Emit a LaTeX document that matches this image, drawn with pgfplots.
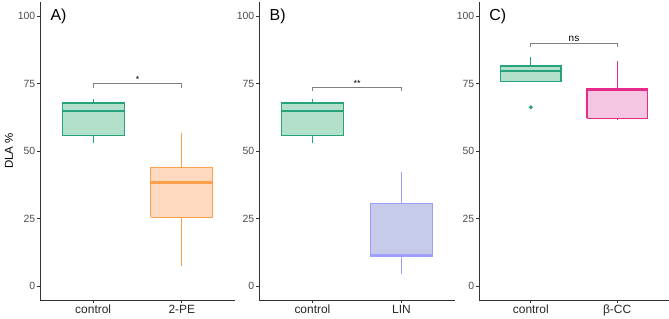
\documentclass[border=0pt]{standalone}
\usepackage{fontspec}
\setmainfont{Liberation Sans}
\usepackage{pgfplots}
\pgfplotsset{compat=1.18}
\definecolor{gline}{HTML}{26A37A}
\definecolor{gfill}{HTML}{B3E0CB}
\definecolor{oline}{HTML}{FFA14A}
\definecolor{ofill}{HTML}{FFDAC0}
\definecolor{lline}{HTML}{9E9EFF}
\definecolor{lfill}{HTML}{C6CBE9}
\definecolor{pline}{HTML}{E7298A}
\definecolor{pfill}{HTML}{F4C6E1}
\definecolor{axcol}{HTML}{333333}
\definecolor{txtcol}{HTML}{4D4D4D}
\pgfplotsset{
  panel/.style={
    scale only axis, height=298bp,
    xmin=0.4, xmax=2.6, ymin=-5.2, ymax=105.2,
    axis x line*=bottom, axis y line*=left,
    axis line style={draw=axcol, line width=0.9bp, -},
    xtick={1,2}, ytick={0,25,50,75,100},
    /pgf/number format/assume math mode=true,
    tick align=outside, major tick length=3bp,
    tick style={draw=axcol, line width=0.7bp},
    yticklabel style={font=\fontsize{10.5}{12}\selectfont, text=txtcol, inner sep=1.5bp},
    xticklabel style={font=\fontsize{12}{14}\selectfont, text=black!85, inner sep=2bp},
    clip=false,
  },
  bx/.style 2 args={draw=#1, fill=#2, line width=1.2bp, line join=miter},
  wh/.style={color=#1, line width=1.2bp},
  md/.style={color=#1, line width=2.4bp},
}
\begin{document}
\begin{tikzpicture}
\path[use as bounding box] (0,0) rectangle (669bp,319bp);
% Panel A
\begin{axis}[panel, at={(40bp,19bp)}, anchor=south west, width=195bp,
  xticklabels={control,2-PE},
  ylabel={DLA \%}, ylabel style={font=\fontsize{11.5}{13}\selectfont, text=black}]
% control
\addplot[wh=gline] coordinates {(1,52.8) (1,55.7)};
\addplot[wh=gline] coordinates {(1,67.8) (1,69.1)};
\addplot[bx={gline}{gfill}] coordinates {(0.65,55.7) (1.35,55.7) (1.35,67.8) (0.65,67.8) (0.65,55.7)};
\addplot[md=gline] coordinates {(0.65,64.8) (1.35,64.8)};
% 2-PE
\addplot[wh=oline] coordinates {(2,7.5) (2,25.4)};
\addplot[wh=oline] coordinates {(2,43.8) (2,56.5)};
\addplot[bx={oline}{ofill}] coordinates {(1.65,25.4) (2.35,25.4) (2.35,43.8) (1.65,43.8) (1.65,25.4)};
\addplot[md=oline] coordinates {(1.65,38.3) (2.35,38.3)};
\addplot[gray, line width=0.7bp, sharp plot] coordinates {(1,73.3) (1,75) (2,75) (2,73.3)};
\node[anchor=south, inner sep=1bp, font=\fontsize{9}{10}\selectfont] at (axis cs:1.5,75) {*};
\node[anchor=west, font=\fontsize{16}{18}\selectfont] at (axis cs:0.48,100) {A)};
\end{axis}
% Panel B
\begin{axis}[panel, at={(259bp,19bp)}, anchor=south west, width=196bp,
  xticklabels={control,LIN}]
\addplot[wh=gline] coordinates {(1,52.8) (1,55.7)};
\addplot[wh=gline] coordinates {(1,67.8) (1,69.1)};
\addplot[bx={gline}{gfill}] coordinates {(0.65,55.7) (1.35,55.7) (1.35,67.8) (0.65,67.8) (0.65,55.7)};
\addplot[md=gline] coordinates {(0.65,64.8) (1.35,64.8)};
% LIN
\addplot[wh=lline] coordinates {(2,4.3) (2,11.0)};
\addplot[wh=lline] coordinates {(2,30.6) (2,42.3)};
\addplot[bx={lline}{lfill}] coordinates {(1.65,11.0) (2.35,11.0) (2.35,30.6) (1.65,30.6) (1.65,11.0)};
\addplot[md=lline] coordinates {(1.65,11.5) (2.35,11.5)};
\addplot[gray, line width=0.7bp, sharp plot] coordinates {(1,72.4) (1,73.5) (2,73.5) (2,72.4)};
\node[anchor=south, inner sep=1bp, font=\fontsize{9}{10}\selectfont] at (axis cs:1.5,73.5) {**};
\node[anchor=west, font=\fontsize{16}{18}\selectfont] at (axis cs:0.48,100) {B)};
\end{axis}
% Panel C
\begin{axis}[panel, at={(479bp,19bp)}, anchor=south west, width=190bp,
  xticklabels={control,β-CC}]
\addplot[wh=gline] coordinates {(1,81.5) (1,85.0)};
\addplot[bx={gline}{gfill}] coordinates {(0.65,75.7) (1.35,75.7) (1.35,81.5) (0.65,81.5) (0.65,75.7)};
\addplot[md=gline] coordinates {(0.65,79.6) (1.35,79.6)};
\addplot[only marks, mark=*, mark size=1.8bp, mark options={draw=gline, fill=gline}] coordinates {(1,66.2)};
% beta-CC
\addplot[wh=pline] coordinates {(2,61.3) (2,62.1)};
\addplot[wh=pline] coordinates {(2,73.1) (2,83.3)};
\addplot[bx={pline}{pfill}] coordinates {(1.65,62.1) (2.35,62.1) (2.35,73.1) (1.65,73.1) (1.65,62.1)};
\addplot[md=pline] coordinates {(1.65,72.6) (2.35,72.6)};
\addplot[gray, line width=0.7bp, sharp plot] coordinates {(1,88.7) (1,89.8) (2,89.8) (2,88.7)};
\node[anchor=south, inner sep=1.5bp, font=\fontsize{10}{11}\selectfont] at (axis cs:1.5,89.8) {ns};
\node[anchor=west, font=\fontsize{16}{18}\selectfont] at (axis cs:0.48,100) {C)};
\end{axis}
\end{tikzpicture}
\end{document}
